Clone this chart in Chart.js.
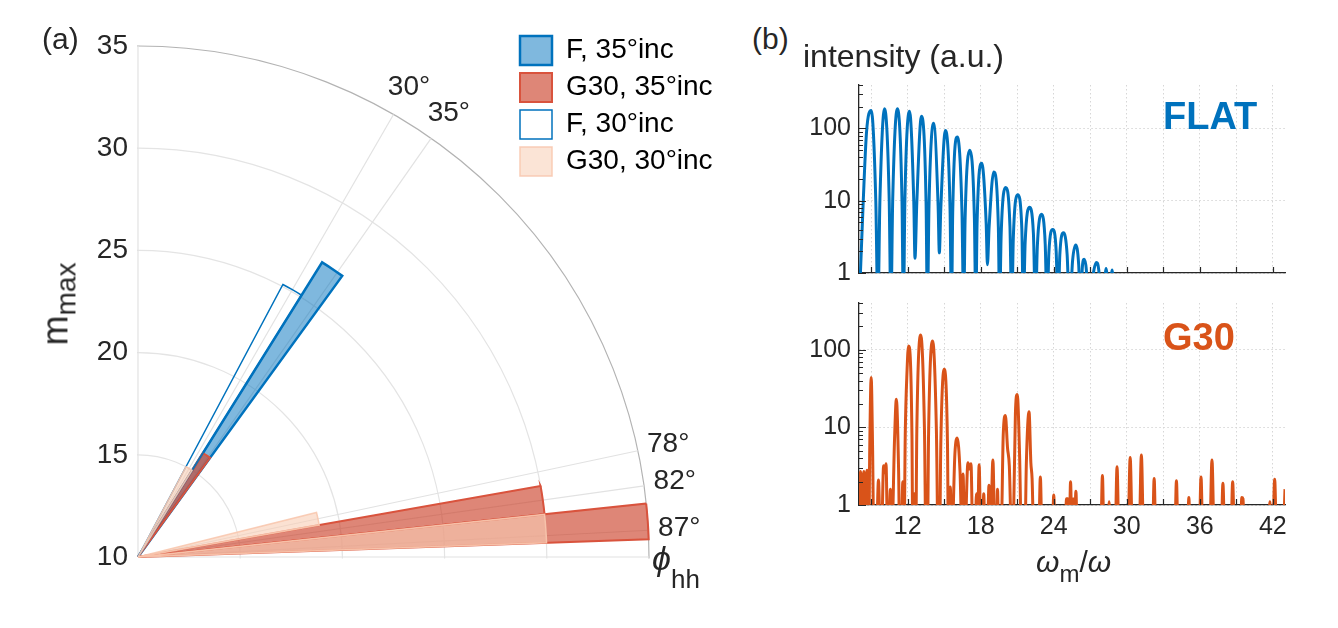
<!DOCTYPE html>
<html>
<head>
<meta charset="utf-8">
<script src="https://cdn.jsdelivr.net/npm/chart.js@4.4.1/dist/chart.umd.min.js"></script>
<style>
  html, body { margin: 0; padding: 0; background: #fff; }
  #page { position: relative; width: 1338px; height: 628px; overflow: hidden;
          font-family: "Liberation Sans", Arial, sans-serif; color: #262626; }
  canvas { position: absolute; }
  .t { position: absolute; line-height: 1; white-space: nowrap; }
</style>
</head>
<body>
<div id="page">
  <canvas id="polar" width="1120" height="1100" style="left:-400px;top:0px"></canvas>
  <canvas id="flat" width="510" height="245" style="left:790px;top:55px"></canvas>
  <canvas id="g30" width="510" height="270" style="left:790px;top:280px"></canvas>

  <div class="t" style="left:42px;top:24px;font-size:30px">(a)</div>
  <div class="t" style="left:752px;top:24px;font-size:30px">(b)</div>
  <div class="t" style="left:803px;top:40px;font-size:32px">intensity (a.u.)</div>
  <div class="t" style="left:1163px;top:97px;font-size:38px;font-weight:bold;color:#0072BD">FLAT</div>
  <div class="t" style="left:1163px;top:318px;font-size:38px;font-weight:bold;color:#D95319">G30</div>
  <div class="t" style="left:1036px;top:547px;font-size:30px"><i>ω</i><span style="font-size:24px;position:relative;top:10px">m</span>/<i>ω</i></div>
  <div class="t" style="left:14px;top:286px;font-size:36px;transform:rotate(-90deg);transform-origin:50% 50%">m<span style="font-size:28px;position:relative;top:8px">max</span></div>
  <div class="t" style="left:652px;top:541px;font-size:34px"><i>ϕ</i><span style="font-size:26px;position:relative;top:18px">hh</span></div>
</div>

<script>
Chart.defaults.font.family = '"Liberation Sans", Arial, sans-serif';
Chart.defaults.color = '#262626';

// (a) polar histogram: bins are 4 deg wide, angle measured from vertical
const rMin = 10, rMax = 35;
const rTicks = [10, 15, 20, 25, 30, 35];
const thetaTicks = [30, 35, 78, 82, 87];
const binWidth = 4;
const seriesNames = ['F, 35°inc', 'G30, 35°inc', 'F, 30°inc', 'G30, 30°inc'];
const f35Start = [32],         f35Value = [27];
const g35Start = [32, 80, 84], g35Value = [16, 30, 35];
const f30Start = [28],         f30Value = [25.1];
const g30Start = [28, 76, 84], g30Value = [15, 19, 30];

// (b) spectra, [harmonic order, intensity]
const flatSpectrum = [
  [8.05,0.5],[8.35,10],[8.62,90],[9.0,178],[9.38,10],[9.55,0.3],
  [9.72,10.5],[10.1,187],[10.48,10.5],[10.62,0.3],
  [10.77,10.5],[11.15,187],[11.53,10.5],[11.65,0.3],
  [11.77,10],[12.15,173],[12.5,10],[12.6,1.6],
  [12.75,9.5],[13.13,148],[13.51,9.5],[13.62,0.3],
  [13.75,8.5],[14.13,118],[14.5,8.5],[14.6,1.9],
  [14.72,7.7],[15.1,94],[15.48,7.7],[15.6,0.3],
  [15.7,7],[16.08,76],[16.46,7],[16.6,0.3],
  [16.72,5.8],[17.1,50],[17.48,5.8],[17.6,0.3],
  [17.7,4.8],[18.08,33],[18.45,4.8],[18.55,1.3],
  [18.69,4.3],[19.07,25],[19.45,4.3],[19.55,0.3],
  [19.68,3.4],[20.05,15.3],[20.4,4.5],[20.55,0.3],
  [20.68,3.1],[21.04,12.1],[21.38,4],[21.5,0.3],
  [21.65,2.6],[22.0,8.1],[22.33,3.5],[22.5,0.3],
  [22.65,2.3],[23.0,6.5],[23.3,2.5],[23.45,0.3],
  [23.6,1.9],[23.92,4.0],[24.2,2.0],[24.35,0.3],
  [24.5,1.8],[24.8,3.6],[25.1,1.8],[25.3,0.3],
  [25.55,1.5],[25.8,2.45],[26.05,1.3],[26.2,0.3],
  [26.35,1.2],[26.5,1.55],[26.68,1.1],[26.85,0.3],
  [27.3,1.1],[27.5,1.4],[27.7,1.1],[27.9,0.3],
  [28.12,0.5],[28.3,1.15],[28.55,0.4],[28.8,1.1],[29.0,0.3]
];
const g30Spectrum = [
  [8.0,0.3],[8.12,2.7],[8.26,0.6],[8.4,2.7],[8.53,0.6],[8.66,2.8],[8.8,0.3],
  [8.88,5],[9.0,44],[9.12,5],[9.22,0.3],
  [9.42,0.3],[9.6,2.1],[9.76,0.3],[9.88,0.5],[10.02,3.2],[10.12,2.6],[10.22,3.4],
  [10.36,0.3],[10.46,0.4],[10.58,1.6],[10.68,0.3],
  [10.92,7],[11.07,23],[11.25,3],[11.35,0.3],
  [11.47,0.3],[11.6,2.0],[11.7,0.3],
  [11.8,8],[11.95,55],[12.07,112],[12.35,8],[12.42,0.3],
  [12.55,1.4],[12.66,0.3],
  [12.75,9],[13.07,155],[13.38,9],[13.5,0.3],
  [13.62,0.3],[13.72,9],[14.05,130],[14.36,9],[14.5,0.3],
  [14.62,0.3],[14.72,6],[15.0,56],[15.27,6],[15.35,0.3],
  [15.5,1.7],[15.62,0.3],[15.88,4.6],[16.07,7.3],[16.3,2.7],[16.43,0.6],[16.55,2.5],
  [16.68,0.3],[16.95,3.5],[17.08,2.9],[17.2,3.4],[17.36,0.3],[17.55,0.4],[17.65,1.4],
  [17.73,0.4],[17.87,3.3],[18.02,0.3],[18.15,0.4],[18.25,1.4],[18.36,0.3],[18.55,0.4],
  [18.68,1.8],[18.8,0.4],[19.0,3.8],[19.18,0.3],[19.3,0.4],[19.38,1.6],[19.48,0.3],
  [19.7,0.5],[19.85,8],[20.03,14.2],[20.2,5.5],[20.35,3.2],[20.55,0.3],
  [20.68,0.5],[20.85,15],[21.0,26.6],[21.2,4],[21.35,0.3],
  [21.62,0.3],[21.75,3.5],[21.97,15.9],[22.12,3.5],[22.22,2.2],[22.38,0.3],
  [22.75,0.3],[22.9,2.3],[23.05,0.3],[23.86,0.3],[24.0,1.35],[24.12,0.3],
  [24.92,0.3],[25.05,1.2],[25.17,1.2],[25.28,0.4],[25.38,2.0],[25.5,0.4],[25.6,1.2],
  [25.7,0.4],[25.82,1.5],[25.95,0.3],
  [27.85,0.3],[28.0,2.4],[28.14,0.3],[28.42,0.3],[28.55,1.1],[28.68,0.3],[29.03,0.3],
  [29.2,3.1],[29.37,0.3],[30.08,0.3],[30.28,4.1],[30.48,0.3],[31.0,0.3],[31.2,4.4],
  [31.4,0.3],[32.1,0.3],[32.25,2.2],[32.4,0.3],[33.93,0.3],[34.08,2.05],[34.23,0.3],
  [34.97,0.3],[35.1,1.25],[35.23,0.3],[35.94,0.3],[36.1,2.3],[36.26,0.3],[36.8,0.3],
  [37.0,3.8],[37.2,0.3],[37.74,0.3],[37.9,1.9],[38.06,0.3],[38.54,0.3],[38.7,2.0],
  [38.86,0.3],[39.33,0.3],[39.45,1.25],[39.55,1.2],[39.67,0.3],[41.62,0.3],[41.75,1.1],
  [41.86,0.3],[41.98,0.3],[42.15,2.15],[42.32,0.3],[42.82,0.3],[43.0,1.6]
];
const xTicks = [9, 12, 15, 18, 21, 24, 27, 30, 33, 36, 39, 42];
const xLabels = [12, 18, 24, 30, 36, 42];
const yTicks = [1,2,3,4,5,6,7,8,9,10,20,30,40,50,60,70,80,90,100,200,300,400];
const yLabels = [1, 10, 100];

// one slice per bin, empty slices (value rMin) fill the gaps round the circle
function wedgeSet(label, starts, values, fill, swatch, edge, width, order) {
  const data = [], angle = [];
  let at = 0;
  starts.forEach((s, i) => {
    if (s > at) { data.push(rMin); angle.push(s - at); }
    data.push(values[i]); angle.push(binWidth);
    at = s + binWidth;
  });
  data.push(rMin); angle.push(360 - at);
  return {
    label, data, angle, order, swatch, legendWidth: width,
    backgroundColor: c => c.raw > rMin ? fill : 'rgba(0,0,0,0)',
    borderColor: edge,
    borderWidth: c => c.raw > rMin ? width : 0,
    borderJoinStyle: 'miter'
  };
}

const polarFrame = {
  id: 'polarFrame',
  afterLayout(chart) {
    const lg = chart.legend;
    lg.left = 912; lg.top = 28;
    lg.right = lg.left + lg.width; lg.bottom = lg.top + 200;
  },
  beforeDraw(chart) {
    const r = chart.scales.r, ctx = chart.ctx;
    ctx.save();
    ctx.beginPath();
    ctx.rect(r.xCenter - 1, 0, chart.width, r.yCenter + 1.5);
    ctx.clip();
  },
  afterDatasetsDraw(chart) {
    chart.ctx.restore();
  },
  afterDraw(chart) {
    const r = chart.scales.r, ctx = chart.ctx;
    ctx.save();
    ctx.fillStyle = '#262626';
    ctx.font = '28px "Liberation Sans", Arial, sans-serif';
    ctx.textAlign = 'right';
    ctx.textBaseline = 'middle';
    rTicks.forEach(v => {
      ctx.fillText(String(v), r.xCenter - 10, r.yCenter - r.getDistanceFromCenterForValue(v));
    });
    ctx.textAlign = 'center';
    thetaTicks.forEach(a => {
      const p = r.getPointPosition(a, r.drawingArea + 31);
      ctx.fillText(a + '°', p.x, p.y);
    });
    ctx.restore();
  }
};

new Chart(document.getElementById('polar'), {
  type: 'polarArea',
  data: {
    labels: Array.from({length: 360}, (_, i) => i),
    datasets: [
      wedgeSet(seriesNames[0], f35Start, f35Value, 'rgba(0,114,189,0.5)', 'rgba(0,114,189,0.5)', '#0072BD', 2.5, 4),
      wedgeSet(seriesNames[1], g35Start, g35Value, 'rgba(203,64,40,0.63)', 'rgba(203,64,40,0.63)', '#D9533D', 2, 3),
      wedgeSet(seriesNames[2], f30Start, f30Value, 'rgba(255,255,255,0)', '#ffffff', '#0072BD', 1.5, 2),
      wedgeSet(seriesNames[3], g30Start, g30Value, 'rgba(248,205,180,0.6)', 'rgba(248,205,180,0.55)', 'rgba(248,200,175,0.9)', 1.5, 1)
    ]
  },
  options: {
    responsive: false,
    animation: false,
    events: [],
    layout: { padding: { left: 27, top: 46, right: 71, bottom: 32 } },
    plugins: {
      tooltip: { enabled: false },
      legend: {
        position: 'chartArea',
        align: 'start',
        labels: {
          boxWidth: 32, boxHeight: 29, padding: 8,
          font: { size: 28 }, color: '#262626',
          generateLabels: chart => chart.data.datasets.map((ds, i) => ({
            text: ds.label, fillStyle: ds.swatch, strokeStyle: ds.borderColor,
            lineWidth: ds.legendWidth, hidden: false, datasetIndex: i
          }))
        }
      }
    },
    scales: {
      r: {
        min: rMin, max: rMax, startAngle: 0,
        ticks: { display: false, stepSize: 5 },
        grid: { circular: true, lineWidth: 1.2,
                color: c => c.tick && c.tick.value === rMax ? '#b3b3b3' : '#e4e4e4' },
        angleLines: { display: true, color: '#e2e2e2',
                      lineWidth: c => (c.index === 0 || c.index === 90 || thetaTicks.includes(c.index)) ? 1.2 : 0 },
        pointLabels: { display: false }
      }
    }
  },
  plugins: [polarFrame]
});

// ticks pointing into the plot, as in the original
const inwardTicks = {
  id: 'inwardTicks',
  afterDraw(chart) {
    const {ctx, chartArea: a, scales: {x, y}} = chart;
    ctx.save();
    ctx.strokeStyle = '#262626';
    ctx.lineWidth = 1.2;
    ctx.beginPath();
    yTicks.forEach(v => {
      const py = Math.round(y.getPixelForValue(v)) + 0.5;
      ctx.moveTo(a.left, py);
      ctx.lineTo(a.left + (yLabels.includes(v) ? 7 : 4), py);
    });
    xTicks.forEach(v => {
      const px = Math.round(x.getPixelForValue(v)) + 0.5;
      ctx.moveTo(px, a.bottom);
      ctx.lineTo(px, a.bottom - 6);
    });
    ctx.stroke();
    ctx.restore();
  }
};

function spectrum(id, points, color, showX, padding) {
  return new Chart(document.getElementById(id), {
    type: 'line',
    data: {
      datasets: [{
        data: points.map(p => ({x: p[0], y: p[1]})),
        borderColor: color, borderWidth: 3, pointRadius: 0,
        cubicInterpolationMode: 'monotone', clip: 0
      }]
    },
    options: {
      responsive: false,
      animation: false,
      events: [],
      layout: { padding },
      elements: { line: { capBezierPoints: false } },
      plugins: { legend: { display: false }, tooltip: { enabled: false } },
      scales: {
        x: {
          type: 'linear', min: 8, max: 43,
          afterBuildTicks: s => { s.ticks = xTicks.map(v => ({value: v})); },
          afterFit: s => { s.height = showX ? 45 : 0; },
          ticks: { display: showX, autoSkip: false, maxRotation: 0, padding: 7, font: { size: 25 },
                   callback: v => xLabels.includes(v) ? String(v) : '' },
          grid: { color: '#d6d6d6', lineWidth: 1, drawTicks: false },
          border: { color: '#262626', width: 1.3, dash: [1.5, 2.5] }
        },
        y: {
          type: 'logarithmic', min: 1, max: 400,
          afterBuildTicks: s => { s.ticks = yTicks.map(v => ({value: v})); },
          afterFit: s => { s.width = 69; },
          ticks: { autoSkip: false, padding: 8, font: { size: 25 },
                   callback: v => yLabels.includes(v) ? String(v) : '' },
          grid: { drawTicks: false, lineWidth: 1,
                  color: c => (c.tick && yLabels.includes(c.tick.value)) ? '#d6d6d6' : 'rgba(0,0,0,0)' },
          border: { color: '#262626', width: 1.3, dash: [1.5, 2.5] }
        }
      }
    },
    plugins: [inwardTicks]
  });
}

spectrum('flat', flatSpectrum, '#0072BD', false, { left: 0, right: 15, top: 30, bottom: 27 });
spectrum('g30', g30Spectrum, '#D95319', true, { left: 0, right: 15, top: 23, bottom: 0 });
</script>
</body>
</html>
